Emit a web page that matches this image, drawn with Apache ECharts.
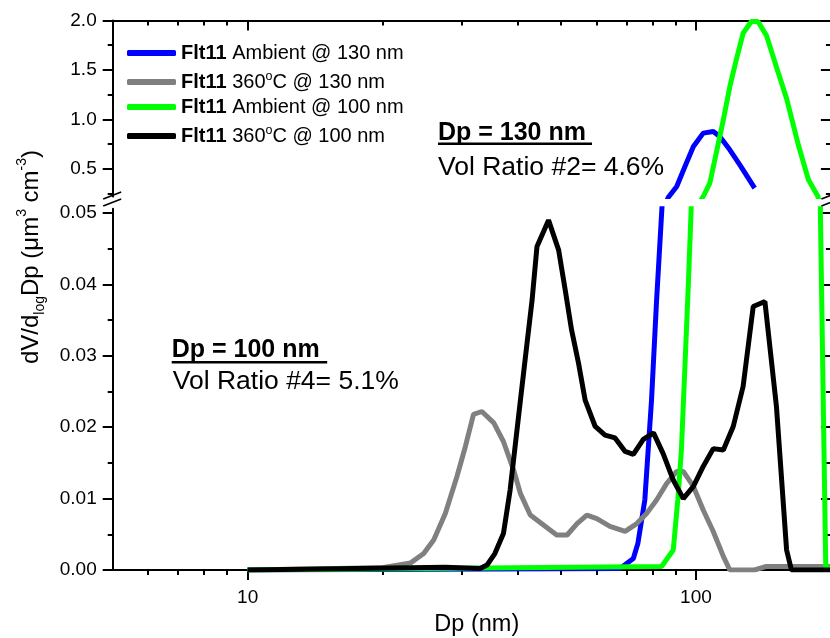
<!DOCTYPE html>
<html><head><meta charset="utf-8">
<script src="https://cdn.jsdelivr.net/npm/echarts@6/dist/echarts.min.js"></script>
<style>html,body{margin:0;padding:0;background:#fff}#c{width:830px;height:638px}</style>
</head><body><div id="c"></div>
<script>
const FONT = '"Liberation Sans", Arial, Helvetica, sans-serif';

// ---- data ----
const names = ['Flt11 Ambient @ 130 nm', 'Flt11 360°C @ 130 nm', 'Flt11 Ambient @ 100 nm', 'Flt11 360°C @ 100 nm'];
const colors = ['#0000ff', '#808080', '#00ff00', '#000000'];

const blueDp  = [10, 67.7, 72.5, 74.2, 76.9, 79.6, 81.7, 84.2, 86.7, 90.6, 94.5, 98.7, 103.8, 109.3, 113.0, 119, 125.3, 135.2];
const blueVal = [0, 0.0002, 0.0016, 0.0037, 0.0098, 0.0238, 0.0378, 0.052, 0.21, 0.321, 0.523, 0.725, 0.861, 0.877, 0.826, 0.692, 0.54, 0.305];

const grayDp  = [10, 19.8, 23.1, 24.7, 26.0, 27.6, 29.3, 30.6, 31.9, 33.3, 35.4, 37.2, 39.2, 40.6, 42.7, 45.7, 48.9, 51.6, 54.3, 57.1, 60.1, 64.3, 69.5, 73.8, 77.6, 81.7, 86.0, 90.6, 93.7, 98.7, 103.8, 109.3, 115.1, 119, 135, 143.6, 200];
const grayVal = [0, 0.0003, 0.001, 0.0023, 0.0042, 0.0079, 0.0131, 0.0173, 0.0218, 0.0222, 0.0206, 0.018, 0.014, 0.0107, 0.0077, 0.0063, 0.0049, 0.0049, 0.0065, 0.0077, 0.0072, 0.0061, 0.0054, 0.0065, 0.0079, 0.0098, 0.0121, 0.0138, 0.0138, 0.0117, 0.0084, 0.0054, 0.0019, 0, 0, 0.0005, 0.0005];

const greenDp  = [10, 83.8, 89.0, 91.1, 92.8, 94.5, 96.2, 98.3, 103.8, 107.4, 111.0, 115.1, 119, 123, 127.4, 132.9, 137.5, 143.6, 151.2, 159.3, 169.6, 178.2, 187.2, 189.5, 194.8, 200];
const greenVal = [0, 0.0005, 0.0028, 0.0098, 0.0168, 0.0285, 0.0402, 0.056, 0.22, 0.356, 0.659, 0.995, 1.331, 1.601, 1.871, 1.99, 1.99, 1.85, 1.53, 1.21, 0.725, 0.389, 0.22, 0.05, 0.0005, 0];

const blackDp  = [10, 27.6, 33.0, 34.2, 35.6, 37.2, 38.5, 39.5, 40.6, 42.0, 43.1, 44.2, 46.9, 49.4, 51.1, 52.8, 54.7, 56.6, 59.6, 62.7, 66.0, 69.5, 72.5, 76.3, 80.4, 84.5, 89.0, 93.7, 98.7, 103.8, 109.3, 115.1, 121.1, 127.4, 134.2, 142.5, 151.2, 159.3, 163.3, 200];
const blackVal = [0, 0.0004, 0.0002, 0.0007, 0.0023, 0.0051, 0.0112, 0.0173, 0.0238, 0.0318, 0.0378, 0.0453, 0.049, 0.0448, 0.0392, 0.0336, 0.029, 0.0238, 0.0201, 0.0189, 0.0185, 0.0166, 0.0162, 0.0183, 0.0192, 0.0163, 0.0126, 0.01, 0.0117, 0.0145, 0.017, 0.0168, 0.0201, 0.0257, 0.0369, 0.0376, 0.0229, 0.0028, 0, 0];

const xMajorTicks = [10, 100];
const xMinorTicks = [6, 7, 8, 9, 20, 30, 40, 50, 60, 70, 80, 90];
const upperMajorTicks = [0.5, 1.0, 1.5, 2.0];
const upperMinorTicks = [0.25, 0.75, 1.25, 1.75];
const lowerMajorTicks = [0, 0.01, 0.02, 0.03, 0.04, 0.05];
const lowerMinorTicks = [0.005, 0.015, 0.025, 0.035, 0.045];

// ---- build ----
const curves = [
  [blueDp, blueVal], [grayDp, grayVal], [greenDp, greenVal], [blackDp, blackVal]
].map(([d, v], i) => ({ name: names[i], color: colors[i], data: d.map((x, k) => [x, v[k]]) }));

const GL = 112.7, GW = 718.2;
const AX = { color: '#000', width: 2 };
function xAx(grid, pos, ticks, len, inside, withLine, withLabel) {
  return {
    type: 'log', gridIndex: grid, position: pos, min: 5, max: 200, logBase: 10,
    axisLine: { show: withLine, lineStyle: AX },
    axisTick: { show: true, inside: inside, length: len, customValues: ticks, lineStyle: { color: '#000', width: 2 } },
    axisLabel: { show: withLabel, customValues: ticks, fontSize: 19, fontFamily: FONT, color: '#000', margin: 18 },
    splitLine: { show: false }, minorTick: { show: false }
  };
}
function yAx(grid, pos, min, max, ticks, len, inside, withLine, withLabel, dec) {
  return {
    type: 'value', gridIndex: grid, position: pos, min: min, max: max,
    axisLine: { show: withLine, lineStyle: AX },
    axisTick: { show: true, inside: inside, length: len, customValues: ticks, lineStyle: { color: '#000', width: 2 } },
    axisLabel: { show: withLabel, customValues: ticks, fontSize: 19, fontFamily: FONT, color: '#000', margin: 16,
                 formatter: v => Number(v).toFixed(dec) },
    splitLine: { show: false }
  };
}

const xAxes = [
  Object.assign(xAx(1, 'bottom', xMajorTicks, 10, false, true, true), {
    name: 'Dp (nm)', nameLocation: 'middle', nameGap: 43,
    nameTextStyle: { fontSize: 23.5, fontFamily: FONT, color: '#000', padding: [0, 0, 0, 10] }
  }),
  xAx(1, 'bottom', xMinorTicks, 5, false, false, false),
  xAx(0, 'top', xMajorTicks, 10, true, true, false),
  xAx(0, 'top', xMinorTicks, 5, true, false, false)
];
const UMIN = 0.22, UMAX = 2.0, LMIN = 0, LMAX = 0.0506;
const yAxes = [
  yAx(0, 'left', UMIN, UMAX, upperMajorTicks, 10, false, true, true, 1),
  yAx(0, 'left', UMIN, UMAX, upperMinorTicks, 5, false, false, false, 1),
  yAx(0, 'right', UMIN, UMAX, upperMajorTicks, 10, true, true, false, 1),
  yAx(0, 'right', UMIN, UMAX, upperMinorTicks, 5, true, false, false, 1),
  yAx(1, 'left', LMIN, LMAX, lowerMajorTicks, 10, false, true, true, 2),
  yAx(1, 'left', LMIN, LMAX, lowerMinorTicks, 5, false, false, false, 2),
  yAx(1, 'right', LMIN, LMAX, lowerMajorTicks, 10, true, true, false, 2),
  yAx(1, 'right', LMIN, LMAX, lowerMinorTicks, 5, true, false, false, 2)
];

const series = [];
curves.forEach(c => {
  [[2, 0], [0, 4]].forEach(([xi, yi]) => {
    series.push({
      type: 'line', name: c.name, xAxisIndex: xi, yAxisIndex: yi, data: c.data,
      showSymbol: false, symbol: 'none', clip: true, silent: true,
      itemStyle: { color: c.color }, lineStyle: { color: c.color, width: 5 }
    });
  });
});

const rich = {
  b: { fontWeight: 'bold', fontSize: 20, fontFamily: FONT, color: '#000', lineHeight: 24 },
  sup: { fontSize: 12.5, fontFamily: FONT, color: '#000', verticalAlign: 'top', lineHeight: 24 },
  n: { fontSize: 20, fontFamily: FONT, color: '#000', lineHeight: 24 }
};
function legendFmt(name) {
  const rest = name.replace('Flt11 ', '');
  const parts = rest.split('°');
  if (parts.length === 2) return '{b|Flt11} {n|' + parts[0] + '}{sup|o}{n|' + parts[1] + '}';
  return '{b|Flt11} {n|' + rest + '}';
}
const legendCenters = [53, 82, 107, 136];
const legends = names.map((n, i) => ({
  data: [n], left: 127, top: legendCenters[i] - 12, orient: 'horizontal', padding: 0,
  icon: 'roundRect', itemWidth: 49, itemHeight: 6, selectedMode: false,
  textStyle: { fontSize: 20, fontFamily: FONT, color: '#000', lineHeight: 24, rich: rich },
  formatter: legendFmt
}));

function brk(x0) {
  return [
    { type: 'line', shape: { x1: x0 - 9.5, y1: 199, x2: x0 + 8.5, y2: 192 }, style: { stroke: '#000', lineWidth: 1.6 }, z: 100 },
    { type: 'line', shape: { x1: x0 - 9.5, y1: 206, x2: x0 + 8.5, y2: 199 }, style: { stroke: '#000', lineWidth: 1.6 }, z: 100 }
  ];
}
const graphics = [].concat(brk(GL), brk(GL + GW), [
  { type: 'text', x: 438, y: 133.5, z: 100, style: { text: 'Dp = 130 nm', font: 'bold 25px ' + FONT, fill: '#000', align: 'left', verticalAlign: 'middle' } },
  { type: 'rect', shape: { x: 438, y: 142.5, width: 154, height: 2.5 }, style: { fill: '#000' }, z: 100 },
  { type: 'text', x: 438, y: 167.5, z: 100, style: { text: 'Vol Ratio #2= 4.6%', font: '26.5px ' + FONT, fill: '#000', align: 'left', verticalAlign: 'middle' } },
  { type: 'text', x: 171.7, y: 349.7, z: 100, style: { text: 'Dp = 100 nm', font: 'bold 25px ' + FONT, fill: '#000', align: 'left', verticalAlign: 'middle' } },
  { type: 'rect', shape: { x: 171.7, y: 361, width: 155.5, height: 2.5 }, style: { fill: '#000' }, z: 100 },
  { type: 'text', x: 172.7, y: 382, z: 100, style: { text: 'Vol Ratio #4= 5.1%', font: '26.5px ' + FONT, fill: '#000', align: 'left', verticalAlign: 'middle' } },
  { type: 'text', x: 31, y: 257, rotation: Math.PI / 2, z: 100, style: {
      text: '{t|dV/d}{sub|log}{t|Dp (μm}{sup|3}{t| cm}{sup|-3}{t|)}',
      align: 'center', verticalAlign: 'middle',
      rich: {
        t: { fontSize: 24, fontFamily: FONT, fill: '#000', lineHeight: 32 },
        sub: { fontSize: 14, fontFamily: FONT, fill: '#000', lineHeight: 32, verticalAlign: 'bottom' },
        sup: { fontSize: 14, fontFamily: FONT, fill: '#000', lineHeight: 32, verticalAlign: 'top' }
      } } }
]);

const chart = echarts.init(document.getElementById('c'), null, { renderer: 'canvas' });
chart.setOption({
  animation: false,
  backgroundColor: '#fff',
  grid: [
    { left: GL, top: 20.5, width: GW, height: 176, containLabel: false, outerBoundsMode: 'none' },
    { left: GL, top: 570 - LMAX * 7140, width: GW, height: LMAX * 7140, containLabel: false, outerBoundsMode: 'none' }
  ],
  xAxis: xAxes,
  yAxis: yAxes,
  legend: legends,
  series: series,
  graphic: graphics
});
</script></body></html>
